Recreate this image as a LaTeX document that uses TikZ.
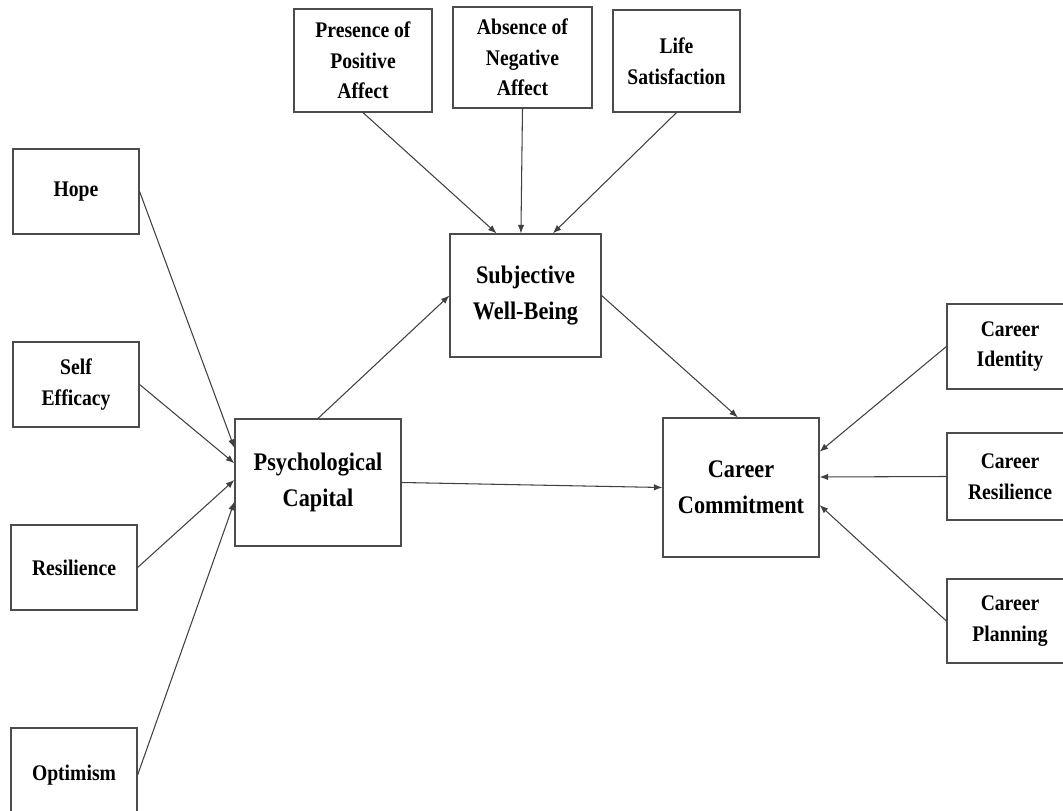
\documentclass[tikz,border=0pt]{standalone}
\usepackage{fontspec}
\setmainfont[FakeStretch=0.88]{Liberation Serif}
\usetikzlibrary{arrows.meta,calc}

\begin{document}
\begin{tikzpicture}[x=0.02cm,y=-0.02cm,
  box/.style={draw=black!70,line width=0.7pt,rectangle,align=center,inner sep=2pt,
    font=\bfseries\fontsize{12.7}{17.5}\selectfont},
  bigbox/.style={box,font=\bfseries\fontsize{14.4}{20.5}\selectfont},
  arr/.style={-{Latex[length=1.7mm,width=1.3mm]},draw=black!75,line width=0.6pt}]
  % page
  \useasboundingbox (0,0) rectangle (1063,811);
  \clip (0,0) rectangle (1063,811);

  % indicators of subjective well-being
  \node[box,minimum width=2.76cm,minimum height=2.06cm] (positive) at (363,60.5) {Presence of\\Positive\\Affect};
  \node[box,minimum width=2.78cm,minimum height=2.02cm] (negative) at (522.5,57.5) {Absence of\\Negative\\Affect};
  \node[box,minimum width=2.54cm,minimum height=2.04cm] (life) at (676.5,61) {Life\\Satisfaction};

  % psychological capital dimensions
  \node[box,minimum width=2.52cm,minimum height=1.7cm] (hope) at (76,191.5) {Hope};
  \node[box,minimum width=2.52cm,minimum height=1.7cm] (efficacy) at (76,384.5) {Self\\Efficacy};
  \node[box,minimum width=2.52cm,minimum height=1.7cm] (resilience) at (74,567.5) {Resilience};
  \node[box,minimum width=2.52cm,minimum height=1.88cm] (optimism) at (74,775) {Optimism};

  % main constructs
  \node[bigbox,minimum width=3.32cm,minimum height=2.54cm] (psycap) at (318,482.5) {Psychological\\Capital};
  \node[bigbox,minimum width=3.02cm,minimum height=2.46cm] (swb) at (525.5,295.5) {Subjective\\Well-Being};
  \node[bigbox,minimum width=3.12cm,minimum height=2.78cm] (commit) at (741,487.5) {Career\\Commitment};

  % career commitment dimensions
  \node[box,minimum width=2.52cm,minimum height=1.7cm] (identity) at (1010,346.5) {Career\\Identity};
  \node[box,minimum width=2.52cm,minimum height=1.74cm] (cresilience) at (1010,476.5) {Career\\Resilience};
  \node[box,minimum width=2.52cm,minimum height=1.68cm] (planning) at (1010,621) {Career\\Planning};

  % into psychological capital
  \draw[arr] (hope.east) -- ($(psycap.north west)!.23!(psycap.south west)$);
  \draw[arr] (efficacy.east) -- ($(psycap.north west)!.35!(psycap.south west)$);
  \draw[arr] (resilience.east) -- ($(psycap.north west)!.48!(psycap.south west)$);
  \draw[arr] (optimism.east) -- ($(psycap.north west)!.65!(psycap.south west)$);

  % into subjective well-being
  \draw[arr] (positive.south) -- ($(swb.north west)!.31!(swb.north east)$);
  \draw[arr] (negative.south) -- ($(swb.north west)!.47!(swb.north east)$);
  \draw[arr] (life.south) -- ($(swb.north west)!.68!(swb.north east)$);

  % paths
  \draw[arr] (psycap.north) -- (swb.west);
  \draw[arr] (psycap.east) -- (commit.west);
  \draw[arr] (swb.east) -- ($(commit.north west)!.48!(commit.north east)$);

  % into career commitment
  \draw[arr] (identity.west) -- ($(commit.north east)!.245!(commit.south east)$);
  \draw[arr] (cresilience.west) -- ($(commit.north east)!.425!(commit.south east)$);
  \draw[arr] (planning.west) -- ($(commit.north east)!.625!(commit.south east)$);
\end{tikzpicture}
\end{document}
